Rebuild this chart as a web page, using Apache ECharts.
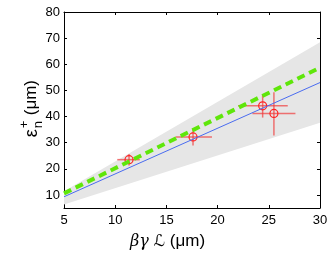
<!DOCTYPE html>
<html><head><meta charset="utf-8">
<script src="https://cdn.jsdelivr.net/npm/echarts@6/dist/echarts.min.js"></script>
<style>html,body{margin:0;padding:0;background:#fff}#c{width:332px;height:258px}</style>
</head><body><div id="c"></div>
<script>
// x positions for fits
var fitX = [5, 30];
var blueFit = [9.3, 53.0];
var greenFit = [10.6, 58.7];
var bandUpper = [11.4, 68.4];
var bandLower = [6.3, 37.6];
// measured points
var ptX = [11.35, 17.6, 24.4, 25.5];
var ptY = [23.5, 32.2, 44.1, 41.2];
var ptXLo = [10.2, 15.9, 22.0, 23.4];
var ptXHi = [12.4, 19.45, 26.85, 27.6];
var ptYLo = [21.3, 28.9, 39.6, 32.7];
var ptYHi = [25.7, 35.3, 48.4, 49.3];
var xTicks = [5, 10, 15, 20, 25, 30];
var yTicks = [10, 20, 30, 40, 50, 60, 70, 80];

var chart = echarts.init(document.getElementById('c'));
var font = 'Liberation Sans, Arial, sans-serif';
function axisBase(show) {
  return {
    axisLine: {show: true, onZero: false, lineStyle: {color: '#000', width: 1}},
    axisTick: {show: true, inside: true, length: 3, lineStyle: {color: '#000'}},
    splitLine: {show: false},
    axisLabel: {show: show, color: '#000', fontSize: 13, fontFamily: font}
  };
}
var xb = axisBase(true);
var xt = axisBase(false);
var yl = axisBase(true);
var yr = axisBase(false);
yl.axisLabel.customValues = yTicks; yl.axisTick.customValues = yTicks; yl.axisLabel.margin = 4;
yr.axisLabel.customValues = yTicks; yr.axisTick.customValues = yTicks;
xb.axisLabel.margin = 6;

var bandData = fitX.map(function (x, i) { return [x, bandUpper[i], bandLower[i]]; });
var errData = ptX.map(function (x, i) { return [x, ptY[i], ptXLo[i], ptXHi[i], ptYLo[i], ptYHi[i]]; });

chart.setOption({
  animation: false,
  grid: {left: 64, right: 12, top: 12, bottom: 50},
  xAxis: [
    Object.assign({type: 'value', min: 5, max: 30, interval: 5, position: 'bottom'}, xb),
    Object.assign({type: 'value', min: 5, max: 30, interval: 5, position: 'top'}, xt)
  ],
  yAxis: [
    Object.assign({type: 'value', min: 5, max: 80, position: 'left'}, yl),
    Object.assign({type: 'value', min: 5, max: 80, position: 'right'}, yr)
  ],
  series: [
    {
      type: 'custom', silent: true, data: [0],
      renderItem: function (params, api) {
        var pts = [];
        bandData.forEach(function (d) { pts.push(api.coord([d[0], d[1]])); });
        for (var i = bandData.length - 1; i >= 0; i--) pts.push(api.coord([bandData[i][0], bandData[i][2]]));
        return {type: 'polygon', shape: {points: pts}, style: {fill: '#e6e6e6'}};
      }
    },
    {
      type: 'line', data: fitX.map(function (x, i) { return [x, blueFit[i]]; }),
      symbol: 'none', lineStyle: {color: '#4a6cf0', width: 1}
    },
    {
      type: 'line', data: fitX.map(function (x, i) { return [x, greenFit[i]]; }),
      symbol: 'none', lineStyle: {color: '#5fe60a', width: 4, type: [8, 5]}
    },
    {
      type: 'custom', data: errData,
      renderItem: function (params, api) {
        var c = api.coord([api.value(0), api.value(1)]);
        var xl = api.coord([api.value(2), api.value(1)]);
        var xh = api.coord([api.value(3), api.value(1)]);
        var yl2 = api.coord([api.value(0), api.value(4)]);
        var yh = api.coord([api.value(0), api.value(5)]);
        var st = {stroke: 'rgba(240,60,60,0.7)', lineWidth: 1.5};
        return {type: 'group', children: [
          {type: 'line', shape: {x1: xl[0], y1: xl[1], x2: xh[0], y2: xh[1]}, style: st},
          {type: 'line', shape: {x1: yl2[0], y1: yl2[1], x2: yh[0], y2: yh[1]}, style: st},
          {type: 'circle', shape: {cx: c[0], cy: c[1], r: 4}, style: {fill: 'none', stroke: '#f22', lineWidth: 1.2}}
        ]};
      }
    }
  ],
  graphic: [
    {type: 'group', left: 18, top: 80, rotation: Math.PI / 2, children: [
      {type: 'text', x: 0, y: 0, style: {text: 'ε', font: '18px ' + font, fill: '#000'}},
      {type: 'text', x: 9, y: -5, style: {text: '+', font: '13px ' + font, fill: '#000'}},
      {type: 'text', x: 9, y: 9, style: {text: 'n', font: '13px ' + font, fill: '#000'}},
      {type: 'text', x: 22, y: 0, style: {text: '(μm)', font: '17px ' + font, fill: '#000'}}
    ]},
    {type: 'text', left: 130, top: 233, style: {
      text: '{g|βγ} {l|ℒ} (μm)',
      rich: {
        g: {fontFamily: 'DejaVu Serif, serif', fontStyle: 'italic', fontSize: 16, fill: '#000'},
        l: {fontFamily: 'DejaVu Sans, serif', fontStyle: 'italic', fontSize: 16, fill: '#000'}
      },
      font: '17px ' + font, fill: '#000'
    }}
  ]
});
</script></body></html>
